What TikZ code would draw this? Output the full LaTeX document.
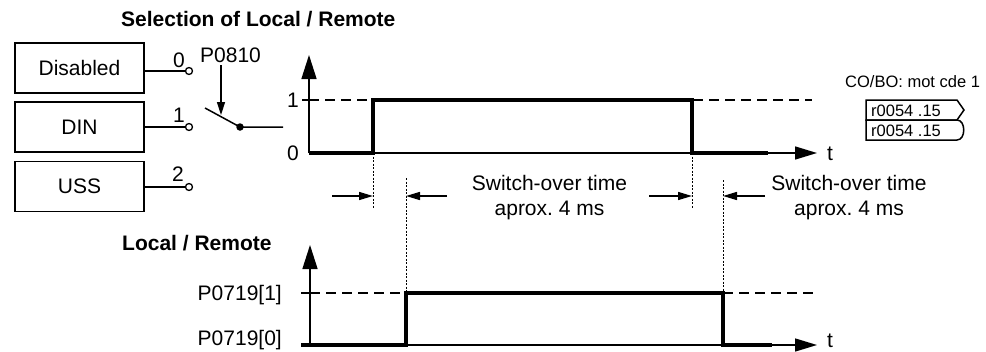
\documentclass[tikz,border=0pt]{standalone}
\usepackage{fontspec}
\setmainfont{Liberation Sans}
\usetikzlibrary{arrows.meta}
\frenchspacing
\begin{document}
\begin{tikzpicture}[x=1pt,y=-1pt,
  txt/.style={font=\fontsize{21}{25}\selectfont, inner sep=0pt},
  ttl/.style={font=\fontsize{21}{25}\selectfont\bfseries, inner sep=0pt},
  small/.style={font=\fontsize{16.5}{19}\selectfont, inner sep=0pt},
  srcbox/.style={draw, line width=1.8pt, minimum width=129pt, minimum height=50pt, font=\fontsize{21}{25}\selectfont, inner sep=0pt},
  contact/.style={circle, draw, line width=1.3pt, minimum size=7pt, inner sep=0pt, fill=white},
  thinl/.style={line width=1.5pt},
  wave/.style={line width=3.5pt, line join=miter},
  lvl/.style={line width=1.2pt, dash pattern=on 10pt off 6pt},
  dotmark/.style={line width=1pt, dash pattern=on 2pt off 1.5pt},
  axisarr/.style={-{Triangle[length=24pt,width=15pt]}},
  tarr/.style={-{Triangle[length=22pt,width=13pt]}},
  dimarr/.style={-{Triangle[length=14pt,width=8pt]}},
  parrow/.style={-{Triangle[length=13pt,width=8pt]}},
]
\useasboundingbox (0,0) rectangle (986,351);

% titles
\node[ttl, anchor=base west] (title) at (121,26) {Selection of Local / Remote};
\node[ttl, anchor=base west] (title2) at (122,250) {Local / Remote};

% source boxes
\node[srcbox] (dis) at (79.5,68) {Disabled};
\node[srcbox] (din) at (79.5,127) {DIN};
\node[srcbox] (uss) at (79.5,186.5) {USS};

% contacts
\node[contact] (c0) at (189,71) {};
\node[contact] (c1) at (189,127) {};
\node[contact] (c2) at (189,187) {};
\draw[thinl] (dis.east |- c0) -- (c0.west);
\draw[thinl] (din.east |- c1) -- (c1.west);
\draw[thinl] (uss.east |- c2) -- (c2.west);
\node[txt, anchor=base] (l0) at (179,67) {0};
\node[txt, anchor=base] (l1) at (179,122) {1};
\node[txt, anchor=base] (l2) at (178,181) {2};

% switch
\coordinate (lev) at (205,108);
\node[circle, fill, inner sep=0pt, minimum size=7.5pt] (pivot) at (240,127) {};
\coordinate (swout) at (283,127);
\draw[thinl] (lev) -- (pivot.center) -- (swout);
\node[txt, anchor=base west] (p0810) at (200,62) {P0810};
\coordinate (parrs) at (221,65);
\coordinate (parre) at (221,115);
\draw[thinl, parrow] (parrs) -- (parre);

% ---------- top chart ----------
\coordinate (o1) at (309,153);
\coordinate (y1top) at (309,55);
\coordinate (t1end) at (817,153);
\draw[lvl] (309,100) -- (812,100);
\draw[thinl, axisarr] (o1) -- (y1top);
\draw[thinl, tarr] (o1) -- (t1end);
\draw[thinl] (302,100) -- (309,100);
\node[txt, anchor=base] (one) at (293,107) {1};
\node[txt, anchor=base] (zero) at (293,160) {0};
\node[txt, anchor=base] (t1) at (830,160) {t};
\coordinate (a1) at (373,153);
\coordinate (a2) at (373,100);
\coordinate (a3) at (692,100);
\coordinate (a4) at (692,153);
\draw[wave] (o1) -- (a1) -- (a2) -- (a3) -- (a4) -- (768,153);

% ---------- bottom chart ----------
\coordinate (o2) at (310,345);
\coordinate (y2top) at (310,245);
\coordinate (t2end) at (817,345);
\coordinate (b1) at (406,345);
\coordinate (b2) at (406,293);
\coordinate (b3) at (723,293);
\coordinate (b4) at (723,345);
\draw[lvl] (310,293) -- (b2);
\draw[lvl] (b3) -- (813,293);
\draw[thinl, axisarr] (o2) -- (y2top);
\draw[thinl, tarr] (o2) -- (t2end);
\draw[thinl] (301,293) -- (310,293);
\draw[wave] (301,345) -- (b1) -- (b2) -- (b3) -- (b4) -- (772,345);
\node[txt, anchor=base east] (p1) at (282,300) {P0719[1]};
\node[txt, anchor=base east] (p0) at (282,345.5) {P0719[0]};
\node[txt, anchor=base] (t2) at (830,347) {t};

% dotted markers
\draw[dotmark] (a1) -- (373,208);
\draw[dotmark] (a4) -- (692,208);
\draw[dotmark] (406,178) -- (b2);
\draw[dotmark] (723,180) -- (b3);

% dimension arrows
\draw[thinl, dimarr] (332,196) -- (373,196);
\draw[thinl, dimarr] (447,196) -- (406,196);
\draw[thinl, dimarr] (649,196) -- (692,196);
\draw[thinl, dimarr] (765,196) -- (723,196);

\node[txt, anchor=base] (sw1a) at (549.5,190) {Switch-over time};
\node[txt, anchor=base] (sw1b) at (549.5,215) {aprox. 4 ms};
\node[txt, anchor=base] (sw2a) at (849,190) {Switch-over time};
\node[txt, anchor=base] (sw2b) at (849,215) {aprox. 4 ms};

% CO/BO connectors
\node[small, anchor=base west] (cobo) at (845,87) {CO/BO: mot cde 1};
\draw[line width=1.5pt, line join=miter] (866,100) -- (957,100) -- (964,110) -- (957,120) -- (866,120) -- cycle;
\draw[line width=1.5pt] (866,120) -- (957,120) .. controls (966,120) and (966,140) .. (957,140) -- (866,140) -- cycle;
\node[small, anchor=base west] (r1) at (871,116) {r0054 .15};
\node[small, anchor=base west] (r2) at (871,136) {r0054 .15};
\end{tikzpicture}
\end{document}
